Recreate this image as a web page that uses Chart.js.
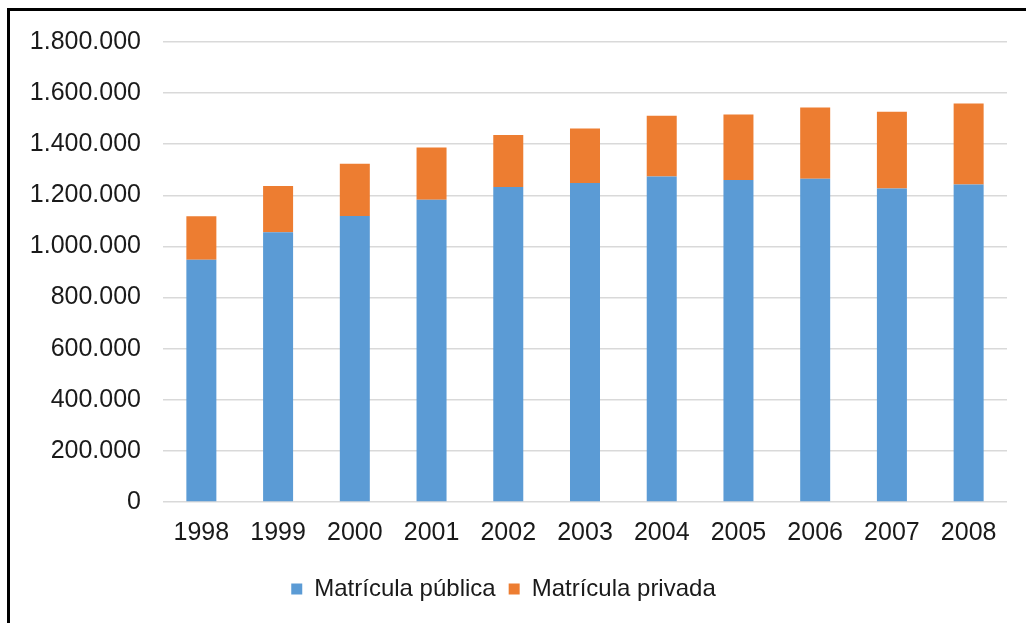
<!DOCTYPE html>
<html>
<head>
<meta charset="utf-8">
<script src="https://cdn.jsdelivr.net/npm/chart.js@4"></script>
<style>
  html, body { margin: 0; padding: 0; background: #fff; overflow: hidden; }
  #wrap { position: relative; width: 1026px; height: 623px; }
  #frame { position: absolute; left: 7px; top: 8px; width: 1100px; height: 700px; border-left: 3px solid #000; border-top: 3px solid #000; box-sizing: border-box; pointer-events: none; }
  canvas { position: absolute; left: 0; top: 0; }
</style>
</head>
<body>
<div id="wrap">
  <canvas id="c" width="1026" height="623"></canvas>
  <div id="frame"></div>
</div>
<script>
const categories = ['1998','1999','2000','2001','2002','2003','2004','2005','2006','2007','2008'];
const publica = [947600, 1055400, 1119400, 1183100, 1232700, 1248300, 1274100, 1260000, 1265100, 1227200, 1242800];
const privada = [170300, 181200, 204300, 204200, 203000, 213200, 237000, 256200, 278400, 299500, 316300];
const seriesNames = ['Matrícula pública', 'Matrícula privada'];
const yTicks = [0, 200000, 400000, 600000, 800000, 1000000, 1200000, 1400000, 1600000, 1800000];

function fmt(v) {
  return String(Math.round(v)).replace(/\B(?=(\d{3})+(?!\d))/g, '.');
}

const FONT = '"Liberation Sans", Arial, sans-serif';
const FS = 25;

new Chart(document.getElementById('c'), {
  type: 'bar',
  data: {
    labels: categories,
    datasets: [
      { label: seriesNames[0], data: publica, backgroundColor: '#5B9BD5', borderWidth: 0 },
      { label: seriesNames[1], data: privada, backgroundColor: '#ED7D31', borderWidth: 0 }
    ]
  },
  options: {
    responsive: false,
    animation: false,
    devicePixelRatio: 1,
    layout: { padding: { left: 0, right: 19, top: 42, bottom: 12 } },
    datasets: { bar: { categoryPercentage: 1.0, barPercentage: 0.391 } },
    plugins: {
      tooltip: { enabled: false },
      legend: {
        position: 'bottom',
        labels: {
          font: { family: FONT, size: 24 },
          color: '#1a1a1a',
          boxWidth: 11,
          boxHeight: 11,
          padding: 13
        }
      }
    },
    scales: {
      x: {
        stacked: true,
        grid: { display: false, drawTicks: false },
        border: { display: false },
        ticks: { font: { family: FONT, size: FS }, color: '#1a1a1a', padding: 16, maxRotation: 0 }
      },
      y: {
        stacked: true,
        min: 0,
        max: 1800000,
        afterBuildTicks: (s) => { s.ticks = yTicks.map(v => ({ value: v })); },
        afterFit: (s) => { s.width = 163; },
        grid: { color: '#D9D9D9', lineWidth: 1.5, drawTicks: false },
        border: { display: false },
        ticks: { font: { family: FONT, size: FS }, color: '#1a1a1a', padding: 22, callback: (v) => fmt(v) }
      }
    }
  }
});
</script>
</body>
</html>
